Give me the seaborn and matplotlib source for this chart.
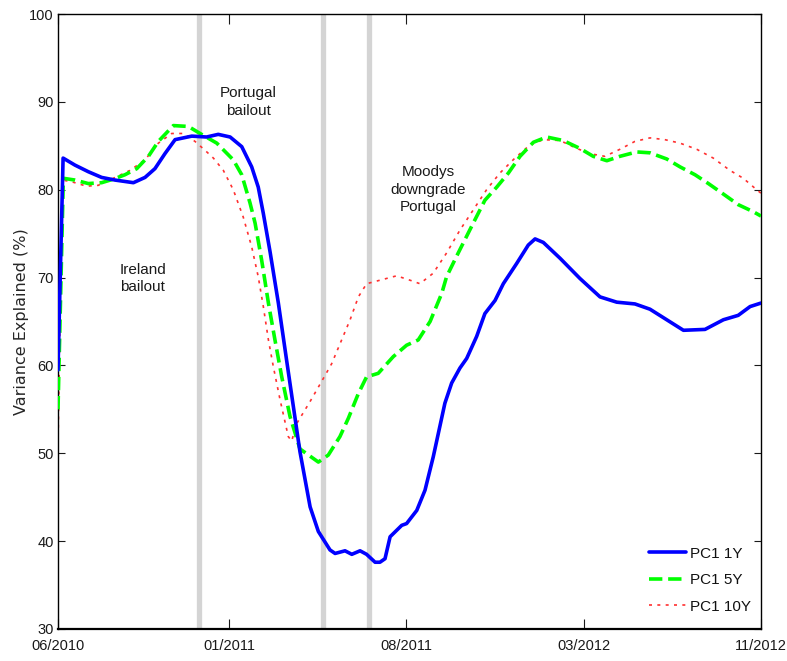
import numpy as np
import pandas as pd
import seaborn as sns
import matplotlib
matplotlib.use("Agg")
import matplotlib.pyplot as plt
from matplotlib import font_manager

# ---------------- data (months since 06/2010) ----------------
x_1y = [0.00, 0.21, 0.70, 1.25, 1.80, 2.35, 3.11, 3.59, 4.00, 4.41, 4.83, 5.52, 6.13, 6.61,
        7.10, 7.58, 7.99, 8.26, 8.47, 8.75, 9.09, 9.43, 9.71, 9.98, 10.12, 10.40, 10.74,
        11.22, 11.43, 11.84, 12.12, 12.46, 12.73, 13.08, 13.28, 13.49, 13.70, 14.18, 14.38,
        14.80, 15.14, 15.48, 15.96, 16.24, 16.58, 16.86, 17.27, 17.61, 18.03, 18.37, 18.92,
        19.40, 19.68, 20.02, 20.71, 21.53, 22.36, 23.05, 23.80, 24.42, 25.11, 25.80, 26.69,
        27.45, 28.06, 28.55, 29.00]
pc1_1y = [59.5, 83.6, 82.8, 82.05, 81.4, 81.1, 80.8, 81.4, 82.4, 84.1, 85.7, 86.1, 86.0, 86.3,
          86.0, 84.9, 82.6, 80.3, 77.3, 72.9, 67.1, 60.6, 55.3, 50.2, 48.1, 43.9, 41.1,
          39.0, 38.6, 38.9, 38.5, 38.9, 38.5, 37.6, 37.6, 38.0, 40.5, 41.8, 42.0,
          43.5, 45.8, 49.6, 55.7, 58.0, 59.7, 60.8, 63.3, 65.9, 67.4, 69.3, 71.6,
          73.7, 74.4, 74.0, 72.2, 69.9, 67.8, 67.2, 67.0, 66.4, 65.2, 64.0, 64.1,
          65.2, 65.7, 66.7, 67.1]

x_5y = [0.00, 0.22, 0.70, 1.25, 1.80, 2.28, 2.76, 3.25, 3.73, 4.14, 4.76, 5.38, 5.86, 6.55,
        7.23, 7.58, 7.92, 8.13, 8.40, 8.68, 8.95, 9.23, 9.57, 9.98, 10.74, 11.15, 11.63,
        11.98, 12.39, 12.73, 13.21, 13.83, 14.38, 14.86, 15.35, 15.83, 16.03, 16.51, 17.13,
        17.61, 18.10, 18.58, 19.06, 19.61, 20.16, 20.84, 21.53, 22.08, 22.64, 23.18, 23.87,
        24.42, 25.11, 25.66, 26.28, 26.83, 27.45, 28.06, 28.68, 29.00]
pc1_5y = [55.0, 81.3, 81.1, 80.7, 80.8, 81.2, 81.7, 82.4, 83.8, 85.5, 87.3, 87.2, 86.4, 85.3,
          83.4, 81.7, 78.5, 76.2, 72.0, 67.1, 62.9, 58.7, 54.2, 50.5, 49.0, 49.8, 51.9,
          54.0, 56.8, 58.7, 59.1, 61.0, 62.3, 62.9, 65.0, 68.2, 70.1, 72.8, 76.2,
          78.8, 80.3, 81.9, 83.8, 85.4, 86.0, 85.6, 84.7, 83.8, 83.3, 83.8, 84.3,
          84.2, 83.5, 82.6, 81.7, 80.7, 79.5, 78.3, 77.5, 77.0]

x_10y = [0.00, 0.18, 0.57, 1.18, 1.66, 2.28, 2.97, 3.59, 4.14, 4.69, 5.17, 5.65, 6.06, 6.41,
         6.82, 7.23, 7.64, 7.99, 8.26, 8.47, 8.68, 8.88, 9.16, 9.50, 9.64, 9.85, 10.40,
         10.88, 11.29, 11.70, 12.05, 12.39, 12.73, 13.28, 13.97, 14.52, 14.93, 15.48, 16.03,
         16.58, 17.13, 17.68, 18.23, 18.85, 19.47, 20.02, 20.71, 21.40, 21.95, 22.56, 23.18,
         23.80, 24.42, 25.03, 25.66, 26.35, 27.03, 27.72, 28.27, 28.82, 29.00]
pc1_10y = [51.0, 81.1, 80.9, 80.4, 80.5, 81.3, 82.2, 83.4, 85.3, 86.4, 86.4, 85.5, 84.5, 83.6,
           82.2, 80.0, 76.9, 73.5, 70.1, 66.7, 62.9, 59.9, 56.1, 51.9, 51.4, 53.4, 55.9,
           58.2, 60.2, 62.9, 65.2, 67.8, 69.3, 69.7, 70.2, 69.7, 69.3, 70.5, 72.8,
           75.4, 77.7, 80.0, 81.9, 83.6, 85.1, 85.7, 85.6, 84.7, 84.1, 83.8, 84.6,
           85.5, 85.9, 85.7, 85.3, 84.6, 83.6, 82.2, 81.3, 80.0, 79.6]

series_names = ["PC1 1Y", "PC1 5Y", "PC1 10Y"]
tick_pos = [0, 7.05, 14.36, 21.7, 29]
tick_labels = ["06/2010", "01/2011", "08/2011", "03/2012", "11/2012"]
event_x = [5.82, 10.93, 12.83]
annotations = [("Ireland\nbailout", 3.5, 69.9),
               ("Portugal\nbailout", 7.84, 90.0),
               ("Moodys\ndowngrade\nPortugal", 15.26, 80.0)]

# ---------------- fonts ----------------
names = {f.name for f in font_manager.fontManager.ttflist}
if "Liberation Sans Narrow" in names:
    narrow = "Liberation Sans Narrow"
    nsize = 12.5
else:
    narrow = "Liberation Sans"
    nsize = 10.5

sns.set_style("white")
plt.rcParams["font.family"] = ["Liberation Sans", "DejaVu Sans"]

fig = plt.figure(figsize=(7.87, 6.61), dpi=100)
ax = fig.add_axes([58 / 787, 32 / 661, (761 - 58) / 787, (629 - 14) / 661])

for ex in event_x:
    ax.axvline(ex, color="#d4d4d4", lw=3.8, zorder=1)

df1 = pd.DataFrame({"x": x_1y, "y": pc1_1y})
df5 = pd.DataFrame({"x": x_5y, "y": pc1_5y})
df10 = pd.DataFrame({"x": x_10y, "y": pc1_10y})

sns.lineplot(data=df1, x="x", y="y", ax=ax, color="#0000ff", lw=2.6,
             label=series_names[0], zorder=4, sort=False)
sns.lineplot(data=df5, x="x", y="y", ax=ax, color="#00ff00", lw=2.6, linestyle="--",
             label=series_names[1], zorder=3, sort=False)
sns.lineplot(data=df10, x="x", y="y", ax=ax, color="#ff3030", lw=1.2,
             linestyle=(0, (1.8, 3.2)),
             label=series_names[2], zorder=2, sort=False)

for txt, tx, ty in annotations:
    ax.text(tx, ty, txt, ha="center", va="center", fontsize=nsize + 0.5, family=narrow,
            linespacing=1.3, color="#1a1a1a")

ax.set_xlim(0, 29)
ax.set_ylim(30, 100)
ax.set_xticks(tick_pos)
ax.set_xticklabels(tick_labels, family=narrow, fontsize=nsize)
ax.set_yticks(np.arange(30, 101, 10))
ax.set_yticklabels([str(v) for v in range(30, 101, 10)], family=narrow, fontsize=nsize)
ax.tick_params(axis="x", direction="in", length=7.5, width=0.8, top=True, bottom=True,
               colors="#1a1a1a", pad=7)
ax.tick_params(axis="y", direction="in", length=5, width=0.8, left=True, right=True,
               colors="#1a1a1a", pad=3)
ax.set_xlabel("")
ax.set_ylabel("Variance Explained (%)", fontsize=11.5, family="DejaVu Sans")
ax.yaxis.set_label_coords(-0.041, 0.5)
for sp in ax.spines.values():
    sp.set_color("black")
    sp.set_linewidth(1.0)
    sp.set_visible(True)
ax.spines["bottom"].set_linewidth(1.6)

leg = ax.legend(loc="lower right", frameon=False, prop={"family": narrow, "size": 11},
                handlelength=2.4, handletextpad=0.3, labelspacing=0.82,
                bbox_to_anchor=(0.995, 0.015), borderaxespad=0.0)
for t in leg.get_texts():
    t.set_color("#111111")

fig.savefig("out.png", dpi=100)
